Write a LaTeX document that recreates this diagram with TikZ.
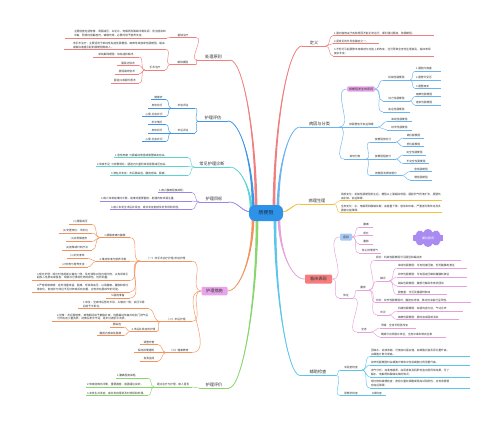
\documentclass[tikz,border=0pt]{standalone}
\usepackage{fontspec}
\setmainfont{Noto Sans CJK SC}
\XeTeXlinebreaklocale "zh"
\XeTeXlinebreakskip=0pt
\usetikzlibrary{shapes.symbols}
\definecolor{txt}{HTML}{333333}
\definecolor{cRed}{HTML}{F08080}
\definecolor{cBlueA}{HTML}{6BB4EE}
\definecolor{cBlueB}{HTML}{3D97E6}
\definecolor{cYellow}{HTML}{F5C040}
\definecolor{cPink}{HTML}{E8A0DC}
\definecolor{cCyan}{HTML}{5CC6EA}
\definecolor{cTeal}{HTML}{5DD3D6}
\definecolor{cPurple}{HTML}{9D85E8}
\definecolor{cOrange}{HTML}{F5925C}
\definecolor{cGreen}{HTML}{88D66E}
\definecolor{cCenter}{HTML}{2E93E8}
\definecolor{cCtrTxt}{HTML}{16324F}
\definecolor{cSalmon}{HTML}{F47C7C}
\definecolor{cLilac}{HTML}{E8A4EA}
\definecolor{cSky}{HTML}{A9C9F5}
\definecolor{cCloud}{HTML}{A98BF2}
\newcommand\conR[2]{\foreach \kid in {#2}{\draw[con] (#1.south east) to[out=0,in=180] (\kid.south west);}}
\newcommand\conL[2]{\foreach \kid in {#2}{\draw[con] (#1.south west) to[out=180,in=0] (\kid.south east);}}
\newcommand\mbranch[4]{%
 \fill[br] ([xshift=-1.4pt]#1) .. controls ([xshift=-0.8pt]#2) and ([yshift=0.3pt]#3) .. (#4)
   .. controls ([yshift=-0.3pt]#3) and ([xshift=0.8pt]#2) .. ([xshift=1.4pt]#1) -- cycle;
 \draw[br, line width=0.7pt, line cap=round] (#1) .. controls (#2) and (#3) .. (#4);}
\begin{document}
\begin{tikzpicture}[x=1pt,y=-1pt,
 base/.style={inner xsep=0.8pt, inner ysep=1pt, text=txt, align=center, font=\fontsize{2.7}{3.8}\selectfont},
 tw/.style={text width=#1pt},
 lt/.style={align=left},
 uline/.style={draw=br, line width=0.45pt},
 uR/.style={append after command={(\tikzlastnode.south west) edge[uline] ([xshift=#1pt]\tikzlastnode.south east)}},
 uL/.style={append after command={([xshift=-#1pt]\tikzlastnode.south west) edge[uline] (\tikzlastnode.south east)}},
 R/.style={base, anchor=south west, uR=#1}, R/.default=0,
 L/.style={base, anchor=south east, uL=#1}, L/.default=0,
 mfont/.style={font=\fontsize{4.2}{5}\selectfont},
 MR/.style={base, mfont, anchor=south west, inner ysep=1.3pt, append after command={(\tikzlastnode.south west) edge[draw=br, line width=0.9pt] (\tikzlastnode.south east)}},
 ML/.style={base, mfont, anchor=south east, inner ysep=1.3pt, append after command={(\tikzlastnode.south west) edge[draw=br, line width=0.9pt] (\tikzlastnode.south east)}},
 box/.style={base, rounded corners=1.2pt, inner xsep=2pt, inner ysep=1.3pt, font=\fontsize{3}{3.6}\selectfont},
 con/.style={draw=br, line width=0.45pt}]
\fill[white] (0,0) rectangle (500,425);
\useasboundingbox (0,0) rectangle (500,425);
\coordinate (sDef) at (274,208);
\coordinate (sCau) at (278,208);
\coordinate (sPat) at (281,212);
\coordinate (sCli) at (279,218);
\coordinate (sAux) at (275,219);
\coordinate (sTrt) at (256,208);
\coordinate (sEva) at (253,208);
\coordinate (sDia) at (251,209);
\coordinate (sGoal) at (252,212);
\coordinate (sNur) at (253,218);
\coordinate (sVal) at (257,219);

% ---------------- 定义
\begin{scope}
\colorlet{br}{cRed}
\node[MR, tw=22] (def) at (302,46) {定义};
\node[R, lt, tw=99] (d1) at (333,35.5) {1.肠内容物由于各种原因不能正常运行、顺利通过肠道，称肠梗阻。};
\node[R, lt, tw=44] (d2) at (333,43.5) {2.是常见的外科急腹症之一。};
\node[R, lt, tw=99] (d3) at (333,56) {3.不但可引起肠管本身解剖与功能上的改变，还可导致全身性生理紊乱，临床表现复杂多变。};
\conR{def}{d1,d2,d3}
\mbranch{sDef}{274,126}{288,46}{def.south west}
\end{scope}

% ---------------- 病因与分类
\begin{scope}
\colorlet{br}{cBlueA}
\node[MR, tw=37] (cau) at (300,127) {病因与分类};
\node[box, fill=cLilac] (cau0) at (361,89) {按梗阻发生的原因};
\draw[con] (cau.south east) to[out=0,in=180] (cau0.west);
\node[R, tw=25] (m1) at (383,80) {机械性肠梗阻};
\node[R, lt, tw=24] (m11) at (415,71) {1.肠腔内堵塞};
\node[R, lt, tw=24] (m12) at (415,80) {2.肠管外受压};
\node[R, lt, tw=24] (m13) at (415,88.5) {3.肠壁病变};
\node[R, tw=25] (m2) at (383,101) {动力性肠梗阻};
\node[R, lt, tw=24] (m21) at (415,96.5) {麻痹性肠梗阻};
\node[R, lt, tw=24] (m22) at (415,105) {痉挛性肠梗阻};
\node[R, tw=25] (m3) at (383,112) {血运性肠梗阻};
\foreach \kid in {m1,m2,m3}{\draw[con] (cau0.east) to[out=0,in=180] (\kid.south west);}
\conR{m1}{m11,m12,m13}
\conR{m2}{m21,m22}
\node[R, tw=31] (c2) at (345,127) {按肠壁有无血运障碍};
\node[R, tw=23] (c21) at (387,121.5) {单纯性肠梗阻};
\node[R, tw=23] (c22) at (387,130) {绞窄性肠梗阻};
\conR{c2}{c21,c22}
\node[R, tw=20] (c3) at (344,159) {其他分类};
\node[R, tw=24] (c31) at (370,142) {按梗阻部位分};
\node[R, tw=19] (c311) at (403,138) {高位肠梗阻};
\node[R, tw=19] (c312) at (403,146.5) {低位肠梗阻};
\node[R, tw=24] (c32) at (370,159) {按梗阻程度分};
\node[R, tw=21] (c321) at (403,155) {完全性肠梗阻};
\node[R, tw=24] (c322) at (403,163.5) {不完全性肠梗阻};
\node[R, tw=30] (c33) at (370,175.5) {按梗阻发展快慢分};
\node[R, tw=20] (c331) at (410,171.5) {急性肠梗阻};
\node[R, tw=20] (c332) at (410,180) {慢性肠梗阻};
\conR{c3}{c31,c32,c33}
\conR{c31}{c311,c312}
\conR{c32}{c321,c322}
\conR{c33}{c331,c332}
\conR{cau}{c2,c3}
\mbranch{sCau}{278,166}{289,127}{cau.south west}
\end{scope}

% ---------------- 病理生理
\begin{scope}
\colorlet{br}{cYellow}
\node[MR, tw=32] (pat) at (300,204) {病理生理};
\node[R, lt, tw=100] (p1) at (340,200.5) {局部变化：机械性肠梗阻发生后，梗阻以上肠蠕动增强，肠腔积气积液扩张，肠壁充血水肿、血运障碍。};
\node[R, lt, tw=100] (p2) at (340,212.5) {全身变化：水、电解质和酸碱失衡，血容量下降，感染和中毒，严重者可致休克及多器官功能障碍。};
\conR{pat}{p1,p2}
\mbranch{sPat}{290,212}{292,204}{pat.south west}
\end{scope}

% ---------------- 临床表现
\begin{scope}
\colorlet{br}{cPink}
\node[box, fill=cSalmon, mfont, minimum width=27pt, minimum height=9pt] (cli) at (318.5,279) {临床表现};
\mbranch{sCli}{279,251}{292,280}{cli.west}
\node[box, fill=cSky, minimum width=12pt, minimum height=7pt] (sym) at (346,237) {症状};
\draw[con] (cli.east) to[out=0,in=180] (sym.west);
\node[R, tw=12] (s1) at (359,227) {腹痛};
\node[R, tw=12] (s2) at (359,235.5) {呕吐};
\node[R, tw=12] (s3) at (359,244) {腹胀};
\node[R, tw=20] (s4) at (359,253) {停止排便排气};
\foreach \kid in {s1,s2,s3,s4}{\draw[con] (sym.east) to[out=0,in=180] (\kid.south west);}
\node[cloud, cloud puffs=10, cloud ignores aspect, fill=cCloud, draw=none, minimum width=31pt, minimum height=18pt, inner sep=0pt, text=white, font=\fontsize{3}{3.6}\selectfont] (cld) at (428,238) {痛吐胀闭};
\node[R, tw=12] (sig) at (339,298) {体征};
\draw[con] (cli.east) to[out=0,in=180] (sig.south west);
\node[R, tw=10] (ab) at (357,290) {腹部};
\node[R, lt, tw=84] (ab1) at (375,260) {视诊：机械性肠梗阻可见肠型和蠕动波};
\node[R, tw=10] (ab2) at (377,281) {触诊};
\node[R, lt, tw=68] (ab21) at (397,268) {单纯性肠梗阻：可有轻度压痛，但无腹膜刺激征};
\node[R, lt, tw=68] (ab22) at (397,277) {绞窄性肠梗阻：可有固定压痛和腹膜刺激征};
\node[R, lt, tw=68] (ab23) at (397,286) {蛔虫性肠梗阻：腹部可触及条索状团块};
\node[R, lt, tw=48] (ab24) at (397,294.5) {肠套叠：可扪及腊肠样肿块};
\node[R, lt, tw=94] (ab3) at (375,302.5) {叩诊：绞窄性肠梗阻时，腹腔有渗液，移动性浊音可呈阳性。};
\node[R, tw=10] (ab4) at (377,315) {听诊};
\node[R, lt, tw=64] (ab41) at (397,311) {机械性肠梗阻：有肠鸣音亢进，气过水声};
\node[R, lt, tw=60] (ab42) at (397,319.5) {麻痹性肠梗阻：肠鸣音减弱或消失};
\node[R, tw=12] (wb) at (357,332) {全身};
\node[R, lt, tw=34] (wb1) at (380,328) {早期：全身无明显改变};
\node[R, lt, tw=64] (wb2) at (380,337) {晚期可出现脱水体征，全身中毒和休克征象};
\conR{sig}{ab,wb}
\conR{ab}{ab1,ab2,ab3,ab4}
\conR{ab2}{ab21,ab22,ab23,ab24}
\conR{ab4}{ab41,ab42}
\conR{wb}{wb1,wb2}
\end{scope}

% ---------------- 辅助检查
\begin{scope}
\colorlet{br}{cCyan}
\node[MR, tw=34] (aux) at (300,375.5) {辅助检查};
\node[R, tw=20] (lab) at (340,370) {实验室检查};
\node[R=18, lt, tw=80] (l1) at (370,356.5) {因缺水、血液浓缩，可使血红蛋白值、血细胞比容及尿比重升高，白细胞计数可增高。};
\node[R=18, lt, tw=80] (l2) at (370,365) {绞窄性肠梗阻时白细胞计数和中性粒细胞比例显著升高。};
\node[R=18, lt, tw=80] (l3) at (370,377) {血气分析、血清电解质、血尿素氮及肌酐检查出现异常结果，可了解水、电解质和酸碱失衡的情况。};
\node[R=18, lt, tw=80] (l4) at (370,388) {呕吐物和粪便检查，若有大量红细胞或隐血试验阳性，应考虑肠管有血运障碍。};
\node[R, tw=20] (img) at (340,395.5) {影像学检查};
\node[R, tw=16] (xr) at (368,395.5) {X线检查};
\conR{aux}{lab,img}
\conR{lab}{l1,l2,l3,l4}
\conR{img}{xr}
\mbranch{sAux}{275,298}{288,375.5}{aux.south west}
\end{scope}

% ---------------- 处理原则
\begin{scope}
\colorlet{br}{cRed}
\node[ML, tw=31] (trt) at (230,60) {处理原则};
\node[L, tw=24] (tb) at (196,37.5) {基础治疗};
\node[L=8, lt, tw=92] (tb1) at (167,38) {主要措施包括禁食、胃肠减压，纠正水、电解质及酸碱平衡失调，防治感染和中毒，酌情应用解痉剂、镇静剂等，必要时给予营养支持。};
\node[L, tw=24] (tr) at (196,64.5) {解除梗阻};
\node[L=8, lt, tw=92] (tr1) at (166,49.5) {非手术治疗：主要适用于单纯性粘连性肠梗阻、麻痹性或痉挛性肠梗阻、蛔虫或粪块堵塞引起的肠梗阻等病人。};
\node[L, tw=18] (tr2) at (165,70) {手术治疗};
\node[L, tw=44] (tr21) at (139,57) {单纯解除梗阻：如粘连松解术};
\node[L, tw=20] (tr22) at (139,65.5) {肠段切除术};
\node[L, tw=22] (tr23) at (139,74) {肠短路吻合术};
\node[L, tw=26] (tr24) at (139,83) {肠造口或肠外置术};
\conL{trt}{tb,tr}
\conL{tb}{tb1}
\conL{tr}{tr1,tr2}
\conL{tr2}{tr21,tr22,tr23,tr24}
\mbranch{sTrt}{256,133}{243,60}{trt.south east}
\end{scope}

% ---------------- 护理评估
\begin{scope}
\colorlet{br}{cBlueB}
\node[ML, tw=28] (eva) at (228,121) {护理评估};
\node[L, tw=22] (e1) at (195,108) {术前评估};
\node[L, tw=13] (e11) at (166,99.5) {健康史};
\node[L, tw=16] (e12) at (166,108) {身体状况};
\node[L, tw=22] (e13) at (166,116.5) {心理-社会状况};
\node[L, tw=22] (e2) at (195,133) {术后评估};
\node[L, tw=16] (e21) at (166,124.5) {术中情况};
\node[L, tw=16] (e22) at (166,133) {身体状况};
\node[L, tw=22] (e23) at (166,141.5) {心理-社会状况};
\conL{eva}{e1,e2}
\conL{e1}{e11,e12,e13}
\conL{e2}{e21,e22,e23}
\mbranch{sEva}{253,163}{240,121}{eva.south east}
\end{scope}

% ---------------- 常见护理诊断
\begin{scope}
\colorlet{br}{cTeal}
\node[ML, tw=34] (dia) at (230,167) {常见护理诊断};
\node[L, lt, tw=72] (x1) at (188,157.5) {1.急性疼痛\enspace 与肠蠕动增强或肠壁缺血有关。};
\node[L, lt, tw=90] (x2) at (188,166.5) {2.体液不足\enspace 与频繁呕吐、肠腔内大量积液及胃肠减压有关。};
\node[L, lt, tw=76] (x3) at (188,175.5) {3.潜在并发症：术后肠粘连、腹腔感染、肠瘘。};
\conL{dia}{x1,x2,x3}
\mbranch{sDia}{251,188}{240,167}{dia.south east}
\end{scope}

% ---------------- 护理目标
\begin{scope}
\colorlet{br}{cPurple}
\node[ML, tw=28] (goal) at (229,202) {护理目标};
\node[L, lt, tw=32] (g1) at (192,192.5) {1.病人腹痛程度减轻。};
\node[L, lt, tw=90] (g2) at (192,201) {2.病人体液能维持平衡，能维持重要器官、脏器的有效灌注量。};
\node[L, lt, tw=80] (g3) at (192,209.5) {3.病人未发生术后并发症，或并发症能被及时发现和处理。};
\conL{goal}{g1,g2,g3}
\mbranch{sGoal}{241,212}{239,202}{goal.south east}
\end{scope}

% ---------------- 护理措施
\begin{scope}
\colorlet{br}{cOrange}
\node[box, fill=cLilac, mfont, minimum width=26pt, minimum height=8.5pt] (nur) at (214.5,291) {护理措施};
\mbranch{sNur}{253,256}{240,291}{nur.east}
\node[L, tw=50] (n1) at (192,261) {（一）非手术治疗护理/术前护理};
\node[L, tw=28] (n11) at (130,237.5) {1.缓解疼痛与腹胀};
\node[L, tw=21] (n111) at (92,224.5) {(1)胃肠减压};
\node[L, tw=31] (n112) at (92,233) {(2)安置体位：半卧位};
\node[L, tw=24] (n113) at (92,241.5) {(3)应用解痉剂};
\node[L, tw=28] (n114) at (92,250) {(4)按摩或针刺疗法};
\node[L, tw=32] (n12) at (130,261.5) {2.维持体液与营养平衡};
\node[L, tw=19] (n121) at (88,258) {(1)补充液体};
\node[L, tw=27] (n122) at (88,267) {(2)饮食与营养支持};
\node[L=4, lt, tw=92] (n13) at (130,280.5) {3.呕吐护理：呕吐时坐起或头偏向一侧，及时清除口腔内呕吐物，以免误吸引起吸入性肺炎或窒息；观察并记录呕吐物的颜色、性状和量。};
\node[L=4, lt, tw=92] (n14) at (130,292) {4.严密观察病情：定时测量体温、脉搏、呼吸和血压，以及腹痛、腹胀和呕吐等变化，若症状与体征不见好转或反有加重，应考虑有肠绞窄的可能。};
\node[L, tw=22] (n15) at (130,298) {5.肠道准备};
\node[L, tw=30] (n2) at (192,321.5) {（二）术后护理};
\node[L=4, lt, tw=64] (n21) at (148,308.5) {1.体位：全麻术后暂时平卧，头偏向一侧；血压平稳后给予半卧位。};
\node[L=4, lt, tw=92] (n22) at (150,321.5) {2.饮食：术后暂禁食，禁食期间给予静脉补液。待肠蠕动恢复并有肛门排气后可开始进少量流质；进食后若无不适，逐步过渡至半流质。};
\node[L, tw=25] (n23) at (157,331.5) {3.术后并发症的护理};
\node[L, tw=12] (n231) at (124,327) {肠粘连};
\node[L, tw=25] (n232) at (124,335.5) {腹腔内感染及肠瘘};
\node[L, tw=24] (n3) at (192,352.5) {（三）健康教育};
\node[L, tw=16] (n31) at (158,344.5) {调整饮食};
\node[L, tw=22] (n32) at (158,352.5) {保持排便通畅};
\node[L, tw=16] (n33) at (158,361) {自我监测};
\foreach \kid in {n1,n2,n3}{\draw[con] (nur.west) to[out=180,in=0] (\kid.south east);}
\conL{n1}{n11,n12,n13,n14,n15}
\conL{n11}{n111,n112,n113,n114}
\conL{n12}{n121,n122}
\conL{n2}{n21,n22,n23}
\conL{n23}{n231,n232}
\conL{n3}{n31,n32,n33}
\end{scope}

% ---------------- 护理评价
\begin{scope}
\colorlet{br}{cGreen}
\node[ML, tw=28] (val) at (229,388) {护理评价};
\node[L, tw=36] (v0) at (192,387) {通过治疗与护理，病人是否};
\node[L, lt, tw=30] (v1) at (148,378) {1.腹痛程度减轻。};
\node[L, lt, tw=60] (v2) at (148,387) {2.体液能维持平衡，重要器官、脏器灌注良好。};
\node[L, lt, tw=60] (v3) at (148,395.5) {3.未发生并发症，或并发症得到及时发现和处理。};
\conL{val}{v0}
\conL{v0}{v1,v2,v3}
\mbranch{sVal}{257,304}{242,388}{val.south east}
\end{scope}

% ---------------- centre
\node[fill=cCenter, rounded corners=6pt, minimum width=34pt, minimum height=16pt, inner sep=1pt, text=cCtrTxt, font=\fontsize{5}{6}\selectfont] (ctr) at (266,213) {肠梗阻};
\end{tikzpicture}
\end{document}
